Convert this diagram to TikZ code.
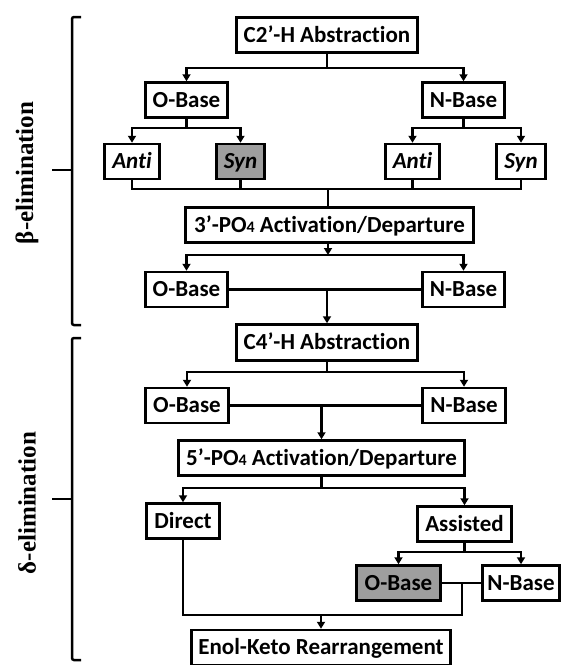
\documentclass[tikz,border=0pt]{standalone}
\usepackage{fontspec}
\setmainfont{Carlito}[Ligatures=NoCommon]
\newfontfamily\labelfont{Liberation Serif}
\usetikzlibrary{arrows.meta}
\definecolor{boxgray}{RGB}{158,158,158}
\tikzset{
  box/.style={draw, line width=2.5pt, inner sep=0pt, minimum height=35pt,
    text height=16.5pt, text depth=1.7pt,
    font=\fontsize{23}{23}\selectfont\bfseries},
  itbox/.style={box, font=\fontsize{23}{23}\selectfont\bfseries\itshape},
  link/.style={line width=2.5pt},
  arr/.style={line width=2.5pt, -{Triangle[width=8pt,length=7pt]}},
  bracket/.style={line width=2.5pt, rounded corners=2pt},
  side/.style={font=\labelfont\bfseries\fontsize{25}{25}\selectfont, rotate=90},
}
\newcommand{\subfour}{{\fontsize{16}{16}\selectfont 4}}
\begin{document}
\begin{tikzpicture}[x=1pt, y=-1pt]
\useasboundingbox (0,0) rectangle (562,665);
\fill[white] (0,0) rectangle (562,665);

% boxes
\node[box, minimum width=181pt] (c2) at (327,35) {C2’-H Abstraction};
\node[box, minimum width=82pt] (ob1) at (186.5,100) {O-Base};
\node[box, minimum width=82pt] (nb1) at (463.5,100) {N-Base};
\node[itbox, minimum width=55pt] (al) at (132,161.5) {Anti};
\node[itbox, fill=boxgray, minimum width=48pt] (sl) at (240.5,161.5) {Syn};
\node[itbox, minimum width=54pt] (ar) at (412.5,161.5) {Anti};
\node[itbox, minimum width=49pt] (sr) at (521,161.5) {Syn};
\node[box, minimum width=288pt] (p3) at (329.5,225) {3’-PO\subfour{} Activation/Departure};
\node[box, minimum width=82pt] (ob2) at (186.5,289.5) {O-Base};
\node[box, minimum width=82pt] (nb2) at (463.5,289.5) {N-Base};
\node[box, minimum width=181pt, minimum height=36pt] (c4) at (327,342.5) {C4’-H Abstraction};
\node[box, minimum width=83pt] (ob3) at (187,405.5) {O-Base};
\node[box, minimum width=83pt] (nb3) at (464,405.5) {N-Base};
\node[box, minimum width=286pt] (p5) at (321.5,458) {5’-PO\subfour{} Activation/Departure};
\node[box, minimum width=73pt] (di) at (183,521) {Direct};
\node[box, minimum width=94pt] (as) at (464.5,524) {Assisted};
\node[box, fill=boxgray, minimum width=84pt] (ob4) at (398.5,583) {O-Base};
\node[box, minimum width=77pt] (nb4) at (521,583) {N-Base};
\node[box, minimum width=259pt] (en) at (321,647.5) {Enol-Keto Rearrangement};

% connectors: beta part
\coordinate (j1) at (327,68);
\draw[link] (c2.south) -- (j1);
\draw[arr] (j1) -| (ob1);
\draw[arr] (j1) -| (nb1);

\coordinate (j2) at (186.5,128);
\draw[link] (ob1.south) -- (j2);
\draw[arr] (j2) -| (al);
\draw[arr] (j2) -| (sl);

\coordinate (j3) at (463.5,128);
\draw[link] (nb1.south) -- (j3);
\draw[arr] (j3) -| (ar);
\draw[arr] (j3) -| (sr);

\coordinate (j4) at (328,189);
\draw[link] (al.south) |- (j4);
\draw[link] (sl.south) |- (j4);
\draw[link] (ar.south) |- (j4);
\draw[link] (sr.south) |- (j4);
\draw[link] (j4) -- (j4 |- p3.north);

\coordinate (j5) at (328,255);
\draw[arr] (p3.south -| j5) -- (j5);
\draw[arr] (j5) -| (ob2);
\draw[arr] (j5) -| (nb2);

\draw[link] (ob2.east) -- (nb2.west);
\draw[arr] (c4.north |- ob2.east) -- (c4.north);

% delta part
\coordinate (j6) at (327,372);
\draw[link] (c4.south) -- (j6);
\draw[arr] (j6) -| (ob3);
\draw[arr] (j6) -| (nb3);

\draw[link] (ob3.east) -- (nb3.west);
\draw[arr] (p5.north |- ob3.east) -- (p5.north);

\coordinate (j7) at (321.5,488);
\draw[link] (p5.south) -- (j7);
\draw[arr] (j7) -| (di);
\draw[arr] (j7) -| (as);

\coordinate (j8) at (464.5,552);
\draw[link] (as.south) -- (j8);
\draw[arr] (j8) -| (ob4);
\draw[arr] (j8) -| (nb4);

\draw[link] (ob4.east) -- (nb4.west);
\coordinate (m4) at (462,583);
\coordinate (j9) at (321,615);
\draw[link] (m4) |- (j9);
\draw[link] (di.south) |- (j9);
\draw[arr] (j9) -- (en.north);

% brackets
\draw[bracket] (81,17) -- (72,17) -- (72,325) -- (81,325);
\draw[link] (52,170) -- (72,170);
\draw[bracket] (81,338) -- (72,338) -- (72,660) -- (81,660);
\draw[link] (52,499) -- (72,499);

\node[side] (lb) at (27,173) {β-elimination};
\node[side] (ld) at (27,503) {δ-elimination};
\end{tikzpicture}
\end{document}
